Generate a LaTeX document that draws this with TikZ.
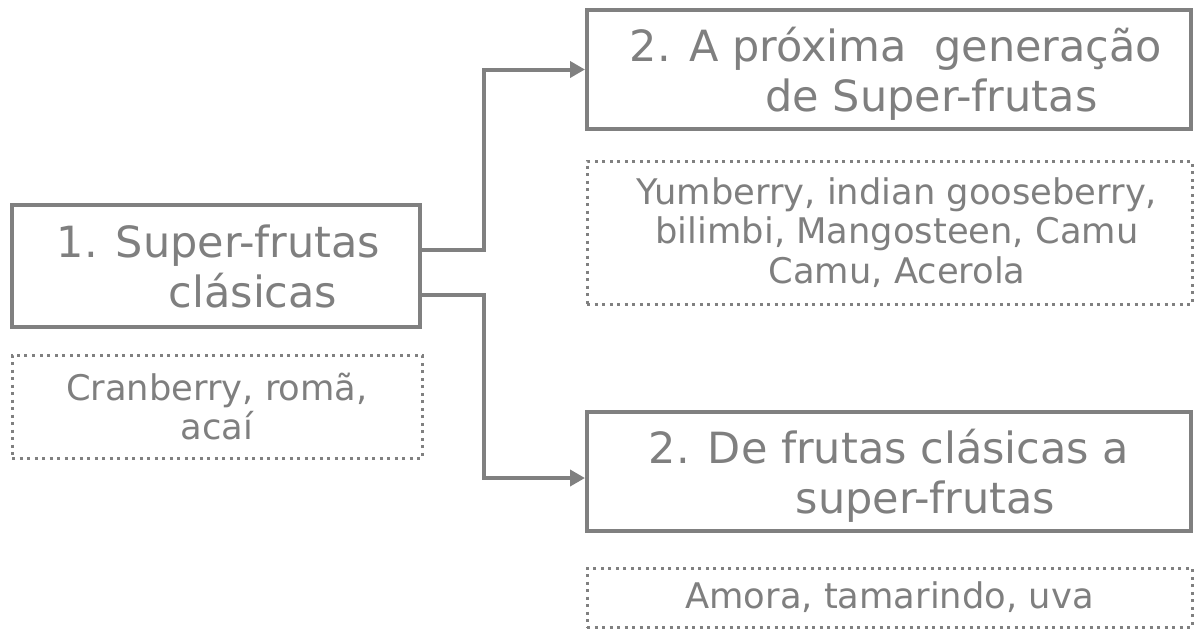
\documentclass[tikz,border=0pt]{standalone}
\usepackage{fontspec}
\setmainfont{DejaVu Sans}
\usetikzlibrary{arrows.meta}
\definecolor{framegray}{RGB}{128,128,128}
\definecolor{textgray}{RGB}{127,127,127}
\tikzset{
  titlebox/.style={draw=framegray, line width=4pt, inner sep=0pt, align=center,
    text=textgray, text depth=0pt, font=\fontsize{43}{50}\selectfont},
  fruitbox/.style={draw=framegray, line width=3pt, dash pattern=on 3pt off 4.5pt,
    inner sep=0pt, align=center, text=textgray, font=\fontsize{35.3}{39.5}\selectfont},
  link/.style={draw=framegray, line width=4pt, -{Triangle[length=15pt,width=16pt]}}
}
\begin{document}
\begin{tikzpicture}[x=1pt,y=-1pt]
	%%%%% START %%%%%
	\useasboundingbox (0,0) rectangle (1194,630);
	
	\node[titlebox, minimum width=408pt, minimum height=122pt] (classic) at (216,266)
		{\hspace*{5pt}1. Super-frutas\\\hspace*{74pt}clásicas};
	\node[fruitbox, minimum width=410pt, minimum height=103pt] (classicfruits) at (217,406.5)
		{Cranberry, romã,\\acaí};
	
	\node[titlebox, minimum width=604pt, minimum height=119pt] (nextgen) at (889,69.5)
		{\hspace*{14pt}2. A próxima~~generação\\\hspace*{85pt}de Super-frutas};
	\node[fruitbox, minimum width=605pt, minimum height=143pt] (nextgenfruits) at (889.5,232.5)
		{\hspace*{15pt}Yumberry, indian gooseberry,\\\hspace*{15pt}bilimbi, Mangosteen, Camu\\\hspace*{15pt}Camu, Acerola};
	
	\node[titlebox, minimum width=604pt, minimum height=119pt] (bridge) at (889,471.5)
		{2. De frutas clásicas a\\\hspace*{73pt}super-frutas};
	\node[fruitbox, minimum width=605pt, minimum height=59pt] (bridgefruits) at (889.5,597.5)
		{Amora, tamarindo, uva};
	
	\draw[link] ([yshift=16pt]classic.east) -- ++(62,0) |- (nextgen.west);
	\draw[link] ([yshift=-29pt]classic.east) -- ++(62,0) |- ([yshift=-6.5pt]bridge.west);
	%%%%% END %%%%%
\end{tikzpicture}
\end{document}
